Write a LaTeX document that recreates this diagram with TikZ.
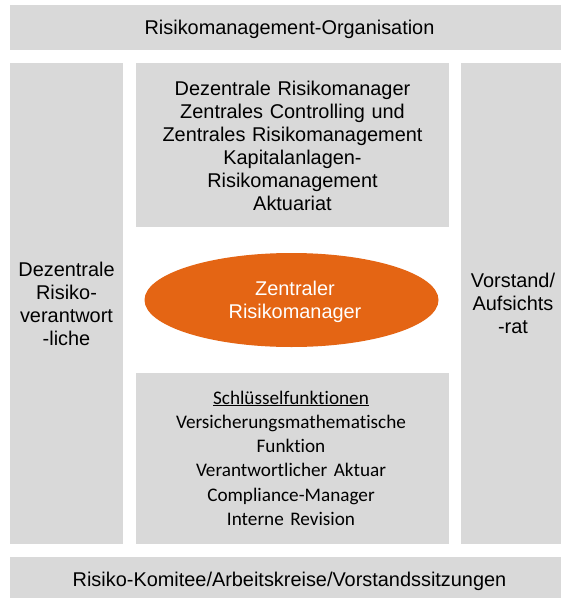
\documentclass[tikz,border=0pt]{standalone}
\usepackage{fontspec}
\setmainfont{Liberation Sans}
\newfontfamily\bodyfont{Carlito}[Ligatures=NoCommon]
\usetikzlibrary{shapes.geometric}
\definecolor{panelgray}{HTML}{D9D9D9}
\definecolor{coreorange}{HTML}{E46514}
\begin{document}
\begin{tikzpicture}[x=1pt,y=-1pt,
  panel/.style={fill=panelgray, draw=none},
  txt/.style={inner sep=0pt, anchor=base, align=center, text width=#1,
    font=\fontsize{19.9}{23}\selectfont},
  txt/.default=300pt,
  keytxt/.style={inner sep=0pt, anchor=base, align=center, text width=300pt,
    font=\bodyfont\fontsize{19.2}{24.3}\selectfont}]
  \useasboundingbox (0,0) rectangle (561,599);
  \fill[white] (0,0) rectangle (561,599);

  % grey panels
  \path[panel] (10,5)    rectangle (560.5,50);
  \path[panel] (10,63)   rectangle (123,544);
  \path[panel] (136,63)  rectangle (449,227);
  \path[panel] (136,373) rectangle (449,544);
  \path[panel] (461,63)  rectangle (560.5,544);
  \path[panel] (10,557)  rectangle (560.5,598);

  % central ellipse
  \node[ellipse, fill=coreorange, inner sep=0pt,
        minimum width=294pt, minimum height=94pt] (core) at (291.5,300) {};
  \node[txt, text=white] (coretext) at (295,295.5) {Zentraler\\Risikomanager};

  % panel texts
  \node[txt=540pt] (orgtitle) at (289.5,34.5) {Risikomanagement-Organisation};
  \node[txt] (units) at (292.5,95.5) {Dezentrale Risikomanager\\Zentrales Controlling und\\Zentrales Risikomanagement\\Kapitalanlagen-\\Risikomanagement\\Aktuariat};
  \node[txt=110pt] (decentral) at (66.5,276) {Dezentrale\\Risiko-\\verantwort\\-liche};
  \node[txt=110pt] (board) at (513,287.5) {Vorstand/\\Aufsichts\\-rat};
  \node[keytxt] (keyfun) at (291,404) {\underline{Schlüsselfunktionen}\\Versicherungsmathematische\\Funktion\\Verantwortlicher Aktuar\\Compliance-Manager\\Interne Revision};
  \node[txt=540pt] (committee) at (289.5,586.5) {Risiko-Komitee/Arbeitskreise/Vorstandssitzungen};
\end{tikzpicture}
\end{document}
